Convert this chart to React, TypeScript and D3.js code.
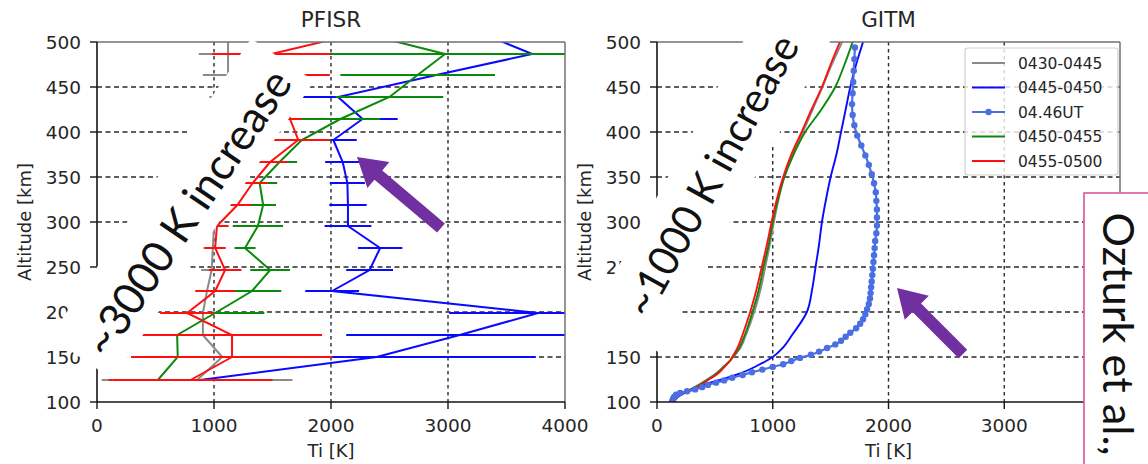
import React from "react";
import * as d3 from "d3";

// ---- PFISR fitted ion temperature profiles: altitude (km), Ti (K), error (K) ----
const PFISR_ALT = [125, 150, 174, 199, 223, 247, 271, 295, 319, 343, 367, 391, 415, 439, 463, 487, 511];

const P_0430_T = [855, 1070, 905, 905, 940, 980, 990, 1000, 1010, 1000, 1000, 1020, 1050, 1080, 1120, 1120, 1120];
const P_0430_E = [815, 160, 110, 100, 90, 90, 80, 80, 80, 80, 80, 90, 100, 120, 215, 250, 200];

const P_0445_T = [880, 2390, 3100, 3770, 2010, 2330, 2420, 2145, 2145, 2140, 2100, 2020, 2270, 2060, 2900, 3720, 3260];
const P_0445_E = [600, 1360, 970, 760, 230, 200, 190, 200, 160, 150, 150, 200, 300, 300, 500, 800, 500];

const P_0450_T = [520, 690, 685, 1010, 1325, 1480, 1265, 1375, 1420, 1390, 1560, 1750, 2080, 2500, 2740, 2975, 2230];
const P_0450_E = [300, 300, 300, 420, 250, 170, 90, 215, 110, 150, 150, 250, 340, 460, 660, 1070, 800];

const P_0455_T = [800, 1154, 1154, 770, 1010, 1095, 1010, 1025, 1200, 1330, 1480, 1720, 1650, 1600, 1700, 1490, 2280];
const P_0455_E = [700, 860, 770, 230, 170, 140, 90, 100, 120, 130, 150, 270, 100, 150, 290, 505, 300];

// ---- GITM modelled ion temperature: altitude (km), Ti (K) ----
const GITM_ALT = [100, 105, 110, 115, 120, 125, 130, 135, 140, 145, 150, 160, 175, 200, 225, 250, 275, 300, 325, 350, 375, 400, 425, 450, 475, 500];
const G_0430 = [150, 170, 225, 300, 370, 430, 490, 540, 580, 625, 660, 720, 770, 840, 895, 935, 975, 1010, 1050, 1100, 1170, 1260, 1345, 1430, 1510, 1600];
const G_0445 = [150, 175, 240, 330, 420, 560, 680, 780, 860, 935, 1000, 1085, 1170, 1295, 1340, 1370, 1400, 1425, 1460, 1500, 1550, 1590, 1630, 1670, 1720, 1780];
const G_0450 = [150, 170, 225, 310, 380, 440, 500, 545, 585, 625, 655, 710, 760, 825, 880, 920, 965, 1000, 1045, 1100, 1180, 1280, 1420, 1540, 1620, 1690];
const G_0455 = [150, 170, 230, 320, 390, 450, 510, 555, 590, 625, 650, 695, 740, 805, 860, 905, 950, 990, 1035, 1090, 1160, 1250, 1335, 1425, 1500, 1580];

// 04.46 UT profile on the model's own altitude grid
const UT_ALT = [100, 102, 104, 106, 108, 110, 112, 114, 116.5, 119, 121.5, 124, 127, 130, 133, 136, 139, 142, 145.5, 149,
  152.5, 156, 160, 164, 168, 172.5, 177, 182, 187, 192, 197.5, 203, 209, 215, 221, 227.5, 234, 241, 248, 255.5,
  263, 271, 279, 287.5, 296, 305, 314, 323.5, 333, 343, 353, 363.5, 374, 385, 396, 407.5, 419, 431, 443, 455.5,
  468, 481, 494];
const UT_T = [130, 135, 140, 150, 165, 200, 260, 330, 390, 440, 510, 580, 650, 740, 820, 910, 1000, 1090, 1160, 1235,
  1330, 1400, 1470, 1540, 1590, 1630, 1670, 1720, 1755, 1780, 1800, 1815, 1830, 1840, 1845, 1850, 1855, 1860, 1865, 1870,
  1875, 1880, 1885, 1895, 1900, 1900, 1900, 1895, 1890, 1875, 1855, 1830, 1800, 1765, 1730, 1705, 1690, 1685, 1690, 1695,
  1700, 1705, 1710];

const LEGEND_LABELS = ["0430-0445", "0445-0450", "04.46UT", "0450-0455", "0455-0500"];
const ALT_TICKS = [100, 150, 200, 250, 300, 350, 400, 450, 500];
const TEMP_TICKS = [0, 1000, 2000, 3000, 4000];

const C_GRAY = "#8a8a8a";
const C_BLUE = "#0a0aff";
const C_ROYAL = "#4a6fe3";
const C_GREEN = "#0a8a0a";
const C_RED = "#ff1010";
const C_PURPLE = "#7030a0";

const FONT = "'DejaVu Sans', sans-serif";
const NOTE_FONT = "Lato, 'Open Sans', sans-serif";

const W = 1148;
const H = 464;

const yAlt = d3.scaleLinear().domain([100, 500]).range([402, 42]);
const xP = d3.scaleLinear().domain([0, 4000]).range([97, 565]);
const xG = d3.scaleLinear().domain([0, 4000]).range([657, 1120]);
// error bars and profile vertices sit on whole pixel rows so stacked bars overlap cleanly
const yRow = (a: number) => Math.round(yAlt(a));

type Pt = { alt: number; t: number; e?: number };

const zip = (alts: number[], ts: number[], es?: number[]): Pt[] =>
  alts.map((a, i) => ({ alt: a, t: ts[i], e: es ? es[i] : undefined }));

const pfisr = [
  { color: C_GRAY, pts: zip(PFISR_ALT, P_0430_T, P_0430_E) },
  { color: C_BLUE, pts: zip(PFISR_ALT, P_0445_T, P_0445_E) },
  { color: C_GREEN, pts: zip(PFISR_ALT, P_0450_T, P_0450_E) },
  { color: C_RED, pts: zip(PFISR_ALT, P_0455_T, P_0455_E) },
];

const gitm = [
  { color: C_GRAY, pts: zip(GITM_ALT, G_0430) },
  { color: C_BLUE, pts: zip(GITM_ALT, G_0445) },
  { color: C_GREEN, pts: zip(GITM_ALT, G_0450) },
  { color: C_RED, pts: zip(GITM_ALT, G_0455) },
];
const utProfile = zip(UT_ALT, UT_T);

const legendColors = [C_GRAY, C_BLUE, C_ROYAL, C_GREEN, C_RED];

function Grid({ x }: { x: d3.ScaleLinear<number, number> }) {
  const [x0, x1] = x.range();
  return (
    <g>
      {ALT_TICKS.slice(1, -1).map((a) => (
        <line key={"h" + a} x1={x0} x2={x1} y1={yAlt(a)} y2={yAlt(a)} stroke="#2a2a2a" strokeWidth={1.4} strokeDasharray="5,3.5" />
      ))}
      {TEMP_TICKS.slice(1, -1).map((t) => (
        <line key={"v" + t} x1={x(t)} x2={x(t)} y1={yAlt(500)} y2={yAlt(100)} stroke="#2a2a2a" strokeWidth={1.4} strokeDasharray="3.5,3.5" />
      ))}
    </g>
  );
}

function Frame({ x, title }: { x: d3.ScaleLinear<number, number>; title: string }) {
  const [x0, x1] = x.range();
  const yTop = yAlt(500);
  const yBot = yAlt(100);
  const cx = (x0 + x1) / 2;
  return (
    <g fontFamily={FONT} fill="#262626">
      <line x1={x0} x2={x1} y1={yTop} y2={yTop} stroke="#707070" strokeWidth={1.5} />
      <line x1={x1} x2={x1} y1={yTop} y2={yBot} stroke="#707070" strokeWidth={1.5} />
      <line x1={x0} x2={x0} y1={yTop} y2={yBot} stroke="#151515" strokeWidth={1.6} />
      <line x1={x0} x2={x1} y1={yBot} y2={yBot} stroke="#151515" strokeWidth={1.6} />
      {ALT_TICKS.map((a) => (
        <g key={"yt" + a}>
          <line x1={x0 - 7} x2={x0} y1={yAlt(a)} y2={yAlt(a)} stroke="#151515" strokeWidth={1.4} />
          <text x={x0 - 16} y={yAlt(a)} dy="0.36em" textAnchor="end" fontSize={18.5}>
            {a}
          </text>
        </g>
      ))}
      {TEMP_TICKS.map((t) => (
        <g key={"xt" + t}>
          <line x1={x(t)} x2={x(t)} y1={yBot} y2={yBot + 7} stroke="#151515" strokeWidth={1.4} />
          <text x={x(t)} y={yBot + 30} textAnchor="middle" fontSize={18.5}>
            {t}
          </text>
        </g>
      ))}
      <text x={cx} y={27} textAnchor="middle" fontSize={21.5}>
        {title}
      </text>
      <text x={cx} y={457} textAnchor="middle" fontSize={18}>
        Ti [K]
      </text>
      <text transform={`translate(${x0 - 66},222) rotate(-90)`} textAnchor="middle" fontSize={18}>
        Altitude [km]
      </text>
    </g>
  );
}

function Arrow({ tip, tail }: { tip: [number, number]; tail: [number, number] }) {
  const dx = tip[0] - tail[0];
  const dy = tip[1] - tail[1];
  const len = Math.hypot(dx, dy);
  const ang = (Math.atan2(dy, dx) * 180) / Math.PI;
  const hl = 28;
  const sw = 6;
  const hw = 17;
  const pts = [
    [0, -sw], [len - hl, -sw], [len - hl, -hw], [len, 0], [len - hl, hw], [len - hl, sw], [0, sw],
  ].map((p) => p.join(",")).join(" ");
  return <polygon transform={`translate(${tail[0]},${tail[1]}) rotate(${ang})`} points={pts} fill={C_PURPLE} />;
}

function Note({ cx, cy, angle, text, len, baseline, size }: { cx: number; cy: number; angle: number; text: string; len: number; baseline: number; size: number }) {
  const L = 360;
  const Hh = 76;
  return (
    <g transform={`translate(${cx},${cy}) rotate(${angle})`}>
      <rect x={-L / 2} y={-Hh / 2} width={L} height={Hh} fill="#ffffff" />
      <text x={0} y={baseline} textAnchor="middle" fontFamily={NOTE_FONT} fontSize={size} fill="#111" textLength={len} lengthAdjust="spacingAndGlyphs">
        {text}
      </text>
    </g>
  );
}

export default function App() {
  const lineP = d3
    .line<Pt>()
    .x((d) => xP(d.t))
    .y((d) => yRow(d.alt));
  const lineG = d3
    .line<Pt>()
    .x((d) => xG(d.t))
    .y((d) => yAlt(d.alt))
    .curve(d3.curveMonotoneY);

  return (
    <svg width={W} height={H} viewBox={`0 0 ${W} ${H}`} style={{ position: "absolute", left: 0, top: 0, background: "#fff" }}>
      <defs>
        <clipPath id="clipP">
          <rect x={xP(0)} y={yAlt(500)} width={xP(4000) - xP(0)} height={yAlt(100) - yAlt(500)} />
        </clipPath>
        <clipPath id="clipG">
          <rect x={xG(0)} y={yAlt(500)} width={xG(4000) - xG(0)} height={yAlt(100) - yAlt(500)} />
        </clipPath>
      </defs>
      <rect x={0} y={0} width={W} height={H} fill="#fff" />

      {/* PFISR panel */}
      <Grid x={xP} />
      <g clipPath="url(#clipP)">
        {pfisr.map((s, k) => (
          <g key={"p" + k} stroke={s.color} strokeWidth={2} fill="none">
            {s.pts.map((d, i) => (
              <line key={i} x1={xP(d.t - (d.e || 0))} x2={xP(d.t + (d.e || 0))} y1={yRow(d.alt)} y2={yRow(d.alt)} />
            ))}
            <path d={lineP(s.pts) || ""} />
          </g>
        ))}
      </g>
      <Frame x={xP} title="PFISR" />

      {/* GITM panel */}
      <Grid x={xG} />
      <g clipPath="url(#clipG)">
        {gitm.map((s, k) => (
          <path key={"g" + k} d={lineG(s.pts) || ""} stroke={s.color} strokeWidth={1.9} fill="none" />
        ))}
        <path d={lineG(utProfile) || ""} stroke={C_ROYAL} strokeWidth={2.2} fill="none" />
        {utProfile.map((d, i) => (
          <circle key={"m" + i} cx={xG(d.t)} cy={yAlt(d.alt)} r={3.2} fill={C_ROYAL} />
        ))}
      </g>
      <Frame x={xG} title="GITM" />

      {/* legend */}
      <g fontFamily={FONT}>
        <rect x={965} y={48} width={153} height={127} rx={3} fill="#fff" fillOpacity={0.8} stroke="#cfcfcf" strokeWidth={1.2} />
        {LEGEND_LABELS.map((lab, i) => {
          const y = 63 + i * 24.5;
          return (
            <g key={lab}>
              <line x1={972} x2={1005} y1={y} y2={y} stroke={legendColors[i]} strokeWidth={2.2} />
              {lab === "04.46UT" && <circle cx={988.5} cy={y} r={3.2} fill={C_ROYAL} />}
              <text x={1018} y={y} dy="0.36em" fontSize={15.5} fill="#262626">
                {lab}
              </text>
            </g>
          );
        })}
      </g>

      {/* annotations */}
      <Note cx={182} cy={209} angle={-56} text="~3000 K increase" len={334} baseline={22} size={44} />
      <Note cx={712} cy={176} angle={-61} text="~1000 K increase" len={314} baseline={14} size={42} />
      <Arrow tip={[357, 157]} tail={[441, 228]} />
      <Arrow tip={[897, 288]} tail={[963, 354]} />

      <g>
        <rect x={1084} y={193} width={80} height={300} fill="#fff" stroke="#d6579c" strokeWidth={1.6} />
        <text transform="translate(1103,334) rotate(90)" textAnchor="middle" fontFamily={NOTE_FONT} fontSize={43} fill="#111" textLength={243} lengthAdjust="spacingAndGlyphs">
          Ozturk et al.,
        </text>
      </g>
    </svg>
  );
}
